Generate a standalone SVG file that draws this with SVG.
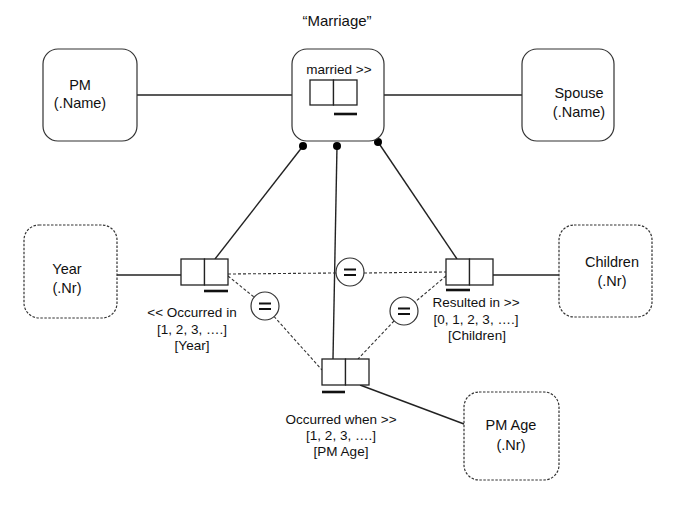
<svg xmlns="http://www.w3.org/2000/svg" width="689" height="506" viewBox="0 0 689 506">
<style>
text{font-family:"Liberation Sans",Arial,sans-serif;fill:#111;text-anchor:middle}
.nt{font-size:14.5px}
.lb{font-size:13.5px}
.ttl{font-size:15px}
.node{fill:#fff;stroke:#333;stroke-width:1.2}
.dash{stroke-dasharray:2.5,1.5}
.role{fill:#fff;stroke:#222;stroke-width:1.3}
.ln{stroke:#222;stroke-width:1.4;fill:none}
.dl{stroke:#333;stroke-width:1.1;stroke-dasharray:3,2;fill:none}
.ul{stroke:#111;stroke-width:2.6}
.eq{fill:#fff;stroke:#333;stroke-width:1.2}
.eqb{stroke:#111;stroke-width:2}
</style>
<text class="ttl" x="337" y="26">“Marriage”</text>
<g id="connectors">
<line class="ln" x1="137" y1="95" x2="310" y2="95"/>
<line class="ln" x1="357" y1="95" x2="522" y2="95"/>
<line class="ln" x1="117" y1="275" x2="181" y2="275"/>
<line class="ln" x1="493" y1="275" x2="559" y2="275"/>
<line class="ln" x1="360" y1="385" x2="464" y2="424"/>
<line class="ln" x1="303" y1="146" x2="215" y2="259"/>
<line class="ln" x1="337" y1="146" x2="333" y2="359"/>
<line class="ln" x1="378" y1="142" x2="457" y2="259"/>
<line class="dl" x1="228" y1="274" x2="336" y2="273"/>
<line class="dl" x1="364" y1="273" x2="446" y2="272"/>
<line class="dl" x1="228" y1="276" x2="254" y2="297"/>
<line class="dl" x1="274" y1="316.5" x2="322" y2="370"/>
<line class="dl" x1="446" y1="276" x2="415" y2="302"/>
<line class="dl" x1="394" y1="321" x2="358" y2="359"/>
<circle cx="303" cy="146" r="4" fill="#000"/>
<circle cx="337" cy="146" r="4" fill="#000"/>
<circle cx="378" cy="142" r="4" fill="#000"/>
</g>
<g id="pm">
<rect class="node" x="43" y="49" width="94" height="92" rx="15"/>
<text class="nt" x="80" y="90">PM</text>
<text class="nt" x="80" y="108">(.Name)</text>
</g>
<g id="spouse">
<rect class="node" x="522" y="49" width="92" height="92" rx="15"/>
<text class="nt" x="579" y="98">Spouse</text>
<text class="nt" x="579" y="117">(.Name)</text>
</g>
<g id="marriage">
<rect class="node" x="292" y="49" width="92" height="92" rx="15" fill="none"/>
<text class="lb" x="339" y="74">married &gt;&gt;</text>
<rect class="role" x="310" y="80" width="23.5" height="25"/>
<rect class="role" x="333.5" y="80" width="23.5" height="25"/>
<line class="ul" x1="334" y1="114" x2="357" y2="114"/>
</g>
<g id="year">
<rect class="node dash" x="24" y="225" width="93" height="93" rx="15"/>
<text class="nt" x="67" y="274">Year</text>
<text class="nt" x="67" y="293">(.Nr)</text>
</g>
<g id="children">
<rect class="node dash" x="559" y="225" width="93" height="92" rx="15"/>
<text class="nt" x="612" y="267">Children</text>
<text class="nt" x="612" y="286">(.Nr)</text>
</g>
<g id="pmage">
<rect class="node dash" x="464" y="392" width="95" height="88" rx="15"/>
<text class="nt" x="511" y="430">PM Age</text>
<text class="nt" x="511" y="450">(.Nr)</text>
</g>
<g id="occurred-in">
<rect class="role" x="181" y="259" width="23.5" height="26"/>
<rect class="role" x="204.5" y="259" width="23.5" height="26"/>
<line class="ul" x1="204" y1="291" x2="228" y2="291"/>
<text class="lb" x="192" y="317">&lt;&lt; Occurred in</text>
<text class="lb" x="192" y="334">[1, 2, 3, ….]</text>
<text class="lb" x="192" y="350">[Year]</text>
</g>
<g id="resulted-in">
<rect class="role" x="446" y="259" width="23.5" height="26"/>
<rect class="role" x="469.5" y="259" width="23.5" height="26"/>
<line class="ul" x1="446" y1="290" x2="470" y2="290"/>
<text class="lb" x="476" y="307">Resulted in &gt;&gt;</text>
<text class="lb" x="476" y="324">[0, 1, 2, 3, ….]</text>
<text class="lb" x="477" y="340">[Children]</text>
</g>
<g id="occurred-when">
<rect class="role" x="322" y="359" width="23.5" height="26"/>
<rect class="role" x="345.5" y="359" width="23.5" height="26"/>
<line class="ul" x1="322" y1="392" x2="345" y2="392"/>
<text class="lb" x="341" y="424">Occurred when &gt;&gt;</text>
<text class="lb" x="341" y="440">[1, 2, 3, ….]</text>
<text class="lb" x="341" y="456">[PM Age]</text>
</g>
<g id="eq-top">
<circle class="eq" cx="350" cy="272" r="14"/>
<line class="eqb" x1="344" y1="269.5" x2="356" y2="269.5"/>
<line class="eqb" x1="344" y1="275" x2="356" y2="275"/>
</g>
<g id="eq-left">
<circle class="eq" cx="265" cy="306" r="14"/>
<line class="eqb" x1="259" y1="303.5" x2="271" y2="303.5"/>
<line class="eqb" x1="259" y1="309" x2="271" y2="309"/>
</g>
<g id="eq-right">
<circle class="eq" cx="404" cy="311" r="14"/>
<line class="eqb" x1="398" y1="308.5" x2="410" y2="308.5"/>
<line class="eqb" x1="398" y1="314" x2="410" y2="314"/>
</g>
</svg>
